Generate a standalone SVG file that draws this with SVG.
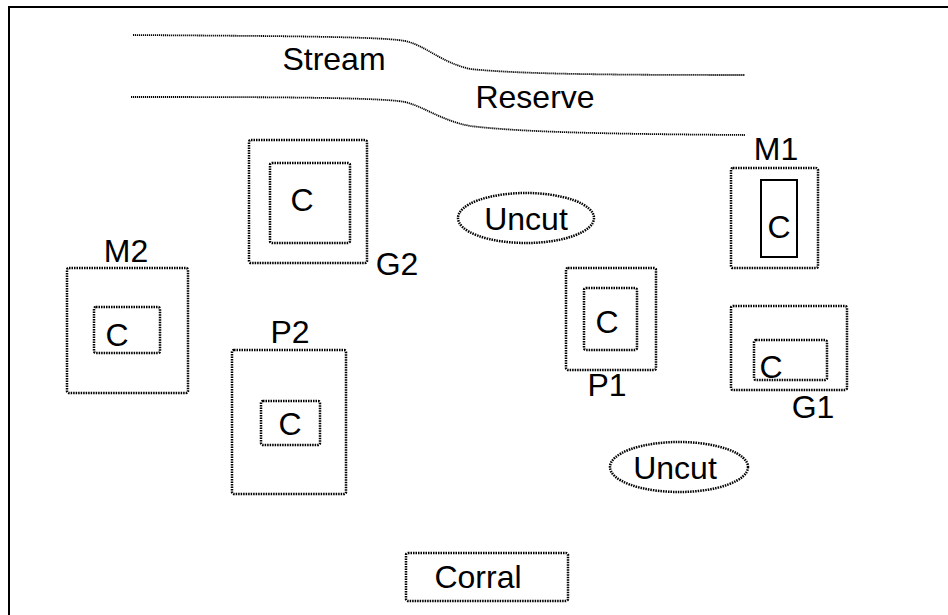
<svg xmlns="http://www.w3.org/2000/svg" width="948" height="615" viewBox="0 0 948 615">
<style>
.d{fill:none;stroke:#000;stroke-width:2.5;stroke-dasharray:1.5 1}
.l{fill:none;stroke:#000;stroke-width:1.8;stroke-dasharray:1.2 0.8}
.s{fill:none;stroke:#000;stroke-width:2}
text{font-family:"Liberation Sans",Arial,sans-serif;font-size:32px;fill:#000;text-anchor:middle}
</style>
<rect width="948" height="615" fill="#fff"/>
<g id="frame"><path class="s" d="M9,615 V7 H948"/></g>
<g id="stream">
<path class="l" d="M133,35 C250,36 380,36 405,41 C425,45 440,62 470,69 C520,74 600,75 745,75"/>
<text x="334" y="70">Stream</text>
</g>
<g id="reserve">
<path class="l" d="M131,97 C250,97 380,97 405,102 C425,107 440,120 470,126 C520,132 600,134 745,135"/>
<text x="535" y="108">Reserve</text>
</g>
<g id="G2">
<rect class="d" x="249" y="140" width="118" height="123" rx="2"/>
<rect class="d" x="270" y="163" width="80" height="80" rx="2"/>
<text x="302" y="211">C</text>
<text x="397" y="275">G2</text>
</g>
<g id="uncut1">
<ellipse class="d" cx="526" cy="218" rx="68" ry="25"/>
<text x="526" y="230">Uncut</text>
</g>
<g id="M1">
<text x="776" y="160">M1</text>
<rect class="d" x="731" y="168" width="87" height="100" rx="2"/>
<rect class="s" x="761" y="180" width="36" height="77"/>
<text x="779" y="238">C</text>
</g>
<g id="M2">
<text x="126" y="262">M2</text>
<rect class="d" x="67" y="268" width="121" height="125" rx="2"/>
<rect class="d" x="94" y="307" width="66" height="46" rx="2"/>
<text x="117" y="346">C</text>
</g>
<g id="P2">
<text x="290" y="343">P2</text>
<rect class="d" x="232" y="350" width="114" height="144" rx="2"/>
<rect class="d" x="261" y="401" width="59" height="44" rx="2"/>
<text x="290" y="435">C</text>
</g>
<g id="P1">
<rect class="d" x="566" y="268" width="90" height="102" rx="2"/>
<rect class="d" x="584" y="288" width="53" height="62" rx="2"/>
<text x="607" y="333">C</text>
<text x="607" y="396">P1</text>
</g>
<g id="G1">
<rect class="d" x="731" y="306" width="116" height="84" rx="2"/>
<rect class="d" x="754" y="340" width="73" height="40" rx="2"/>
<text x="771" y="378">C</text>
<text x="813" y="418">G1</text>
</g>
<g id="uncut2">
<ellipse class="d" cx="679" cy="467" rx="69" ry="25"/>
<text x="675" y="479">Uncut</text>
</g>
<g id="corral">
<rect class="d" x="406" y="553" width="162" height="48" rx="2"/>
<text x="478" y="588">Corral</text>
</g>
<g id="connectors"/>
</svg>
